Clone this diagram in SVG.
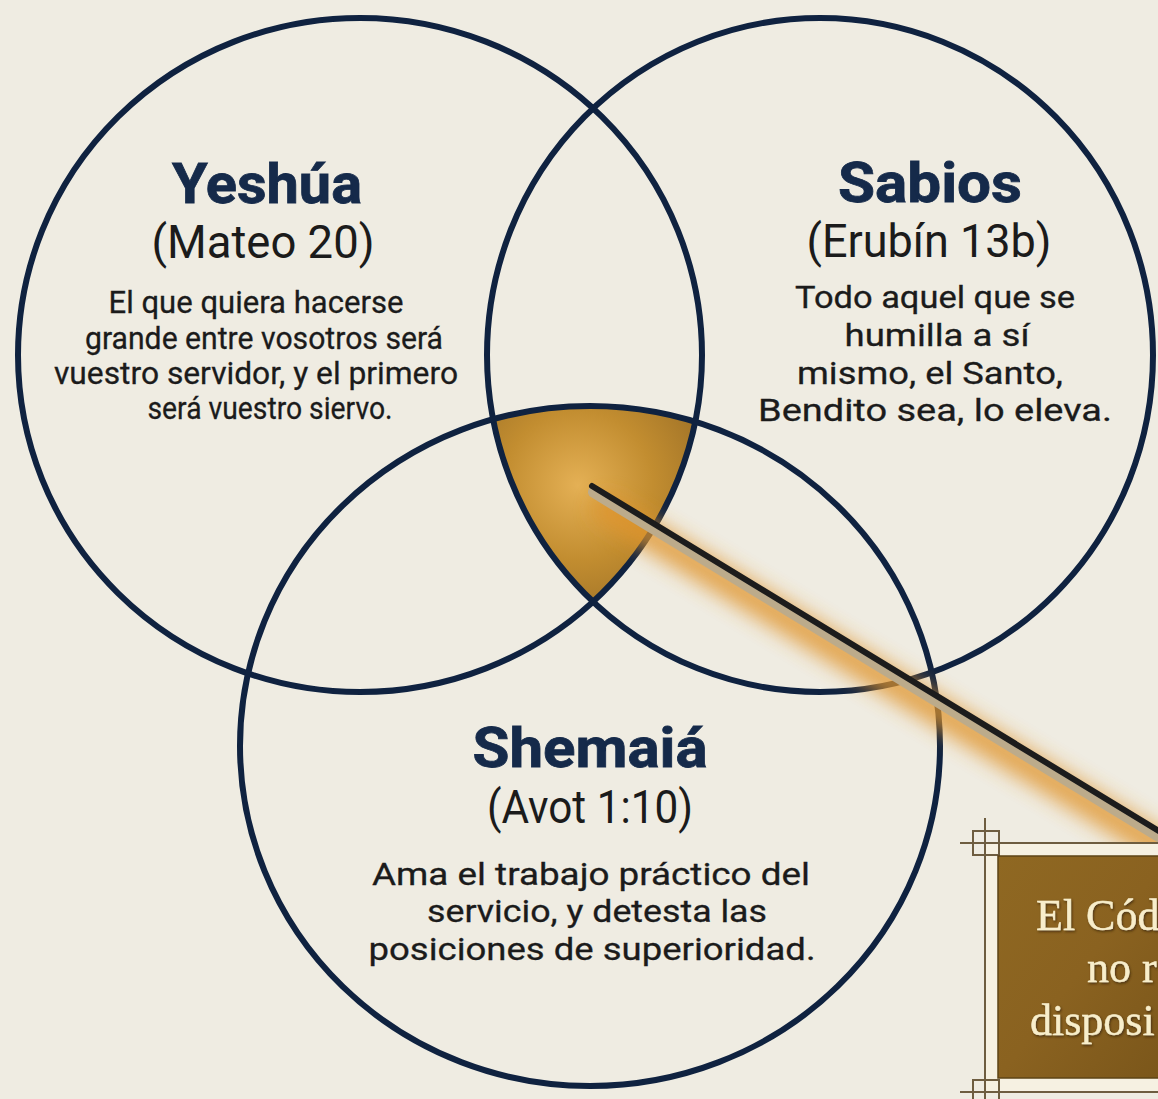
<svg xmlns="http://www.w3.org/2000/svg" width="1158" height="1099" viewBox="0 0 1158 1099">
<style>
.ring{fill:none;stroke:#0f2240;stroke-width:6}
.title{font-family:Roboto,"Liberation Sans",sans-serif;font-weight:700;font-size:56px;fill:#152a4a;stroke:#152a4a;stroke-width:0.8;text-anchor:middle}
.ref{font-family:Roboto,"Liberation Sans",sans-serif;font-weight:400;font-size:46px;fill:#1b1b1b;text-anchor:middle}
.body{font-family:Roboto,"Liberation Sans",sans-serif;font-weight:400;font-size:32px;fill:#1b1b1b;stroke:#1b1b1b;stroke-width:0.3;text-anchor:middle}
.boxt{font-family:"Liberation Serif","DejaVu Serif",serif;font-size:44px;fill:#f8eecb;stroke:#f8eecb;stroke-width:0.4}
.frame{fill:none;stroke:#6e5d40;stroke-width:2}
</style>
<defs>
<clipPath id="cL"><ellipse cx="360" cy="355" rx="342" ry="337"/></clipPath>
<clipPath id="cR"><ellipse cx="820" cy="355" rx="333" ry="337"/></clipPath>
<radialGradient id="gold" gradientUnits="userSpaceOnUse" cx="578" cy="485" r="150">
<stop offset="0" stop-color="#e4b055"/>
<stop offset="0.5" stop-color="#c28d30"/>
<stop offset="1" stop-color="#9a6e26"/>
</radialGradient>
<linearGradient id="boxg" x1="0" y1="0" x2="1" y2="1">
<stop offset="0" stop-color="#8f6822"/>
<stop offset="0.5" stop-color="#8a6220"/>
<stop offset="1" stop-color="#7a561a"/>
</linearGradient>
<filter id="blur" x="-20%" y="-20%" width="140%" height="140%"><feGaussianBlur stdDeviation="10"/></filter>
<filter id="tsh" x="-10%" y="-10%" width="120%" height="130%"><feDropShadow dx="1" dy="1.5" stdDeviation="1" flood-color="#3a2508" flood-opacity="0.8"/></filter>
</defs>
<rect x="0" y="0" width="1158" height="1099" fill="#efece2"/>

<g id="center-shade">
<g clip-path="url(#cL)"><g clip-path="url(#cR)">
<ellipse cx="590" cy="746" rx="350" ry="340" fill="url(#gold)"/>
</g></g>
</g>

<g id="circle-yeshua">
<ellipse class="ring" cx="360" cy="355" rx="342" ry="337"/>
</g>
<g id="circle-sabios">
<ellipse class="ring" cx="820" cy="355" rx="333" ry="337"/>
</g>
<g id="circle-shemaia">
<ellipse class="ring" cx="590" cy="746" rx="350" ry="340"/>
</g>

<g id="label-yeshua">
<text class="title" x="267" y="203" textLength="190" lengthAdjust="spacingAndGlyphs">Yeshúa</text>
<text class="ref" x="263" y="258" textLength="223" lengthAdjust="spacingAndGlyphs">(Mateo 20)</text>
<text class="body" x="256" y="313" textLength="295" lengthAdjust="spacingAndGlyphs">El que quiera hacerse</text>
<text class="body" x="264" y="349" textLength="358" lengthAdjust="spacingAndGlyphs">grande entre vosotros será</text>
<text class="body" x="256" y="384" textLength="404" lengthAdjust="spacingAndGlyphs">vuestro servidor, y el primero</text>
<text class="body" x="270" y="419" textLength="245" lengthAdjust="spacingAndGlyphs">será vuestro siervo.</text>
</g>

<g id="label-sabios">
<text class="title" x="930" y="202" textLength="184" lengthAdjust="spacingAndGlyphs">Sabios</text>
<text class="ref" x="929" y="257" textLength="245" lengthAdjust="spacingAndGlyphs">(Erubín 13b)</text>
<text class="body" x="935" y="308" textLength="280" lengthAdjust="spacingAndGlyphs">Todo aquel que se</text>
<text class="body" x="937" y="346" textLength="185" lengthAdjust="spacingAndGlyphs">humilla a sí</text>
<text class="body" x="930" y="384" textLength="266" lengthAdjust="spacingAndGlyphs">mismo, el Santo,</text>
<text class="body" x="935" y="421" textLength="354" lengthAdjust="spacingAndGlyphs">Bendito sea, lo eleva.</text>
</g>

<g id="label-shemaia">
<text class="title" x="590" y="767" textLength="235" lengthAdjust="spacingAndGlyphs">Shemaiá</text>
<text class="ref" x="590" y="823" textLength="206" lengthAdjust="spacingAndGlyphs">(Avot 1:10)</text>
<text class="body" x="591" y="885" textLength="438" lengthAdjust="spacingAndGlyphs">Ama el trabajo práctico del</text>
<text class="body" x="597" y="922" textLength="340" lengthAdjust="spacingAndGlyphs">servicio, y detesta las</text>
<text class="body" x="592" y="960" textLength="447" lengthAdjust="spacingAndGlyphs">posiciones de superioridad.</text>
</g>

<g id="connectors">
<line x1="608" y1="510" x2="1195" y2="868" stroke="#e0952f" stroke-width="30" stroke-linecap="round" opacity="0.8" filter="url(#blur)"/>
<line x1="594" y1="492" x2="1180" y2="849" stroke="#bcab8b" stroke-width="12" stroke-linecap="round"/>
<line x1="592" y1="486" x2="1180" y2="844" stroke="#1c1c1c" stroke-width="6" stroke-linecap="round"/>
</g>

<g id="code-box">
<rect x="985" y="843" width="190" height="249" fill="#f6f1e2"/>
<line class="frame" x1="960" y1="843" x2="1158" y2="843"/>
<line class="frame" x1="985" y1="818" x2="985" y2="1099"/>
<line class="frame" x1="960" y1="1092" x2="1158" y2="1092"/>
<rect class="frame" x="973" y="831" width="26" height="24"/>
<rect class="frame" x="973" y="1080" width="26" height="22"/>
<rect x="998" y="856" width="170" height="222" fill="url(#boxg)" stroke="#5e4416" stroke-width="1.5"/>
<g filter="url(#tsh)">
<text class="boxt" x="1036" y="930">El Cód</text>
<text class="boxt" x="1087" y="982">no r</text>
<text class="boxt" x="1030" y="1035">disposi</text>
</g>
</g>
</svg>
